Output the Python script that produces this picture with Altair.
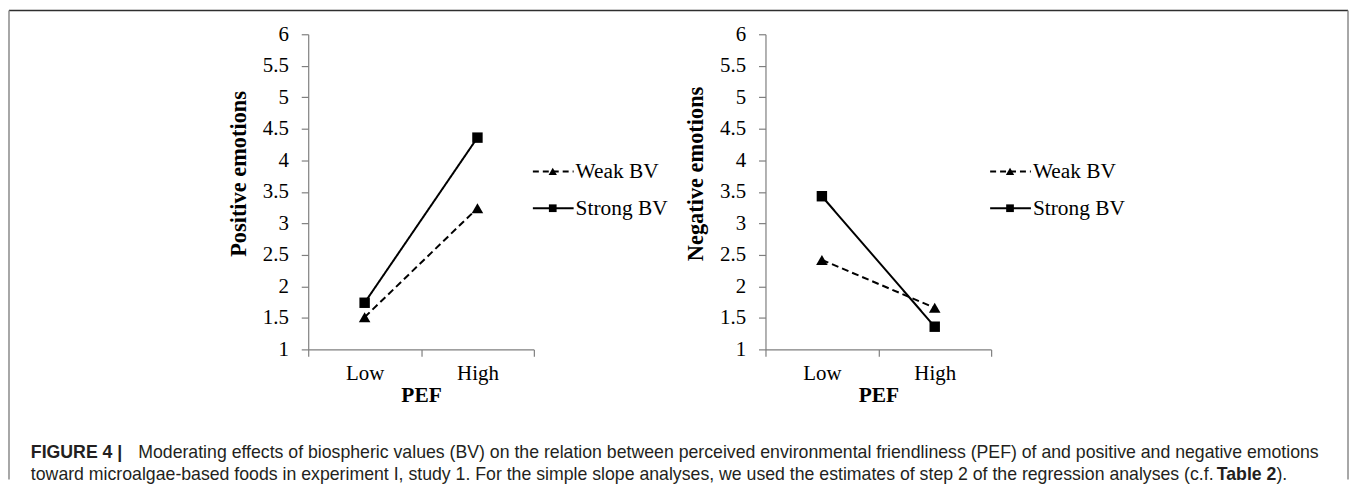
import altair as alt
import pandas as pd

# ---------------- data ----------------
pef_levels = ["Low", "High"]
bv_series = ["Weak BV", "Strong BV"]

positive_weak = [1.51, 3.24]
positive_strong = [1.74, 4.36]
negative_weak = [2.42, 1.66]
negative_strong = [3.43, 1.36]

y_tick_values = [1, 1.5, 2, 2.5, 3, 3.5, 4, 4.5, 5, 5.5, 6]

caption_1_bold = "FIGURE 4 |"
caption_1_text = ("Moderating effects of biospheric values (BV) on the relation between perceived "
                  "environmental friendliness (PEF) of and positive and negative emotions")
caption_2_text = ("toward microalgae-based foods in experiment I, study 1. For the simple slope analyses, "
                  "we used the estimates of step 2 of the regression analyses (c.f.")
caption_2_bold = "Table 2"
caption_2_end = ")."

SERIF = "Liberation Serif"
SANS = "Liberation Sans"
AXIS_GRAY = "#7f7f7f"
CAP_SIZE = 17.8

PLOT_W = 227
PLOT_H = 317


def one_row(**kw):
    return alt.Chart(pd.DataFrame({k: [v] for k, v in kw.items()}))


def legend_layers():
    layers = []
    dashes = [[6, 4], [1, 0]]
    shapes = ["triangle-up", "square"]
    sizes = [70, 60]
    ys = [138, 175]
    for name, dash, shp, sz, yy in zip(bv_series, dashes, shapes, sizes, ys):
        layers.append(one_row(label=name).mark_rule(color="black", strokeWidth=2, strokeDash=dash).encode(
            x=alt.value(226), x2=alt.value(267), y=alt.value(yy)))
        layers.append(one_row(label=name).mark_point(shape=shp, filled=True, color="black", opacity=1,
                                                     size=sz).encode(
            x=alt.value(246), y=alt.value(yy)))
        layers.append(one_row(label=name).mark_text(align="left", baseline="middle", font=SERIF,
                                                    fontSize=21.5, color="black").encode(
            x=alt.value(269), y=alt.value(yy + 1), text="label:N"))
    return layers


def panel(weak, strong, ytitle, extras):
    df = pd.DataFrame({
        "PEF": pef_levels * 2,
        "BV": [bv_series[0]] * 2 + [bv_series[1]] * 2,
        "value": weak + strong,
    })
    x = alt.X("PEF:N", sort=pef_levels,
              scale=alt.Scale(type="band", domain=pef_levels, paddingInner=0, paddingOuter=0),
              axis=alt.Axis(title="PEF", labelAngle=0, tickBand="extent", tickSize=7,
                            labelPadding=6, labelFontSize=21, titleFontSize=21.5,
                            titleFontWeight="bold", titlePadding=1))
    y = alt.Y("value:Q", scale=alt.Scale(domain=[1, 6], nice=False, zero=False),
              axis=alt.Axis(title=ytitle, values=y_tick_values, format="~g", tickSize=7,
                            labelPadding=13, labelFontSize=21, titleFontSize=22.5,
                            titleFontWeight="bold", titlePadding=12, titleY=140))
    base = alt.Chart(df).encode(x=x, y=y)
    lines = base.mark_line(color="black", strokeWidth=2).encode(
        strokeDash=alt.StrokeDash("BV:N", scale=alt.Scale(domain=bv_series, range=[[7, 4], [1, 0]]),
                                  legend=None))
    points = base.mark_point(filled=True, color="black", opacity=1).encode(
        shape=alt.Shape("BV:N", scale=alt.Scale(domain=bv_series, range=["triangle-up", "square"]),
                        legend=None),
        size=alt.Size("BV:N", scale=alt.Scale(domain=bv_series, range=[135, 110]), legend=None))
    return alt.layer(lines, points, *legend_layers(), *extras).properties(width=PLOT_W, height=PLOT_H)


# frame and caption (positioned relative to the left plot area)
frame_layers = [
    one_row(k=0).mark_rule(color="#2e2e2e", strokeWidth=1.5).encode(
        x=alt.value(-301), x2=alt.value(1046), y=alt.value(-24)),
    one_row(k=0).mark_rule(color="#8a8a8a", strokeWidth=1.5).encode(
        x=alt.value(-301), y=alt.value(-24), y2=alt.value(448)),
    one_row(k=0).mark_rule(color="#8a8a8a", strokeWidth=1.5).encode(
        x=alt.value(1046), y=alt.value(-24), y2=alt.value(448)),
]
cap_color = "#231f20"


def cap(text, x, y, bold=False):
    kw = dict(align="left", baseline="alphabetic", font=SANS, fontSize=CAP_SIZE, color=cap_color)
    if bold:
        kw["fontWeight"] = "bold"
    return one_row(t=text).mark_text(**kw).encode(x=alt.value(x), y=alt.value(y), text="t:N")


caption_layers = [
    cap(caption_1_bold, -279, 426, bold=True),
    cap(caption_1_text, -171, 426),
    cap(caption_2_text, -279, 448),
    cap(caption_2_bold, 914, 448, bold=True),
    cap(caption_2_end, 974, 448),
]

left = panel(positive_weak, positive_strong, "Positive emotions", frame_layers + caption_layers)
right = panel(negative_weak, negative_strong, "Negative emotions", [])

chart = alt.hconcat(left, right, spacing=233, bounds="flush").properties(
    padding=0, background="white"
).configure_view(stroke=None).configure_axis(
    grid=False, domainColor=AXIS_GRAY, tickColor=AXIS_GRAY, domainWidth=1.2, tickWidth=1.2,
    labelFont=SERIF, titleFont=SERIF, labelColor="black", titleColor="black"
)

chart.save("out.html", embed_options={"renderer": "svg", "actions": False})
